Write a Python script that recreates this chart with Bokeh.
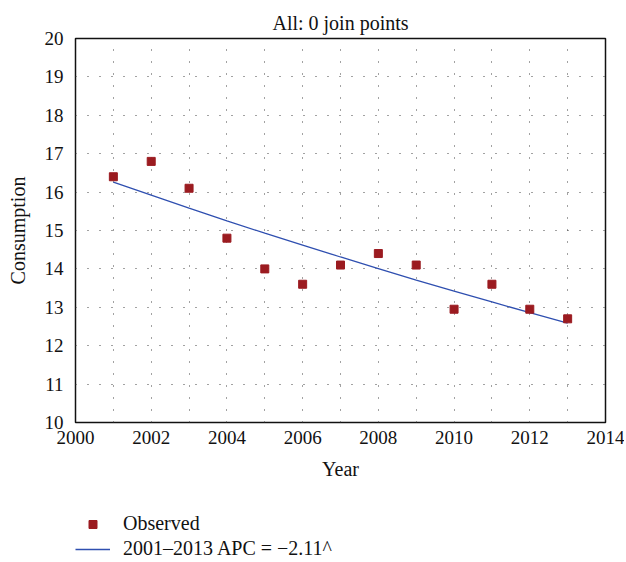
from bokeh.plotting import figure
from bokeh.models import FixedTicker, Legend, LegendItem
from bokeh.layouts import column
from bokeh.embed import file_html
from bokeh.resources import INLINE

years = [2001, 2002, 2003, 2004, 2005, 2006, 2007, 2008, 2009, 2010, 2011, 2012, 2013]
observed = [16.4, 16.8, 16.1, 14.8, 14.0, 13.6, 14.1, 14.4, 14.1, 12.95, 13.6, 12.95, 12.7]
fitted = [16.26, 15.92, 15.58, 15.25, 14.93, 14.62, 14.31, 14.01, 13.71, 13.42, 13.14, 12.86, 12.59]
x_ticks = [2000, 2002, 2004, 2006, 2008, 2010, 2012, 2014]
y_ticks = [10, 11, 12, 13, 14, 15, 16, 17, 18, 19, 20]
x_grid = years
y_grid = [11, 12, 13, 14, 15, 16, 17, 18, 19]
legend_labels = ["Observed", "2001\u20132013 APC = \u22122.11^"]

FONT = "Liberation Serif"
RED = "#9b1b20"
BLUE = "#2f4fb0"

p = figure(width=624, height=500, output_backend="svg", toolbar_location=None,
           x_range=(2000, 2014), y_range=(10, 20),
           min_border_left=75, min_border_right=19, min_border_top=38, min_border_bottom=78,
           title="All: 0 join points")

p.title.align = "center"
p.title.vertical_align = "top"
p.title.text_font = FONT
p.title.text_font_size = "20px"
p.title.text_font_style = "normal"
p.title.text_color = "#111111"
p.title.standoff = 6

p.outline_line_color = "#111111"
p.outline_line_width = 1.5
p.background_fill_color = "white"

for ax in (p.xaxis[0], p.yaxis[0]):
    ax.axis_line_color = None
    ax.major_tick_line_color = None
    ax.minor_tick_line_color = None
    ax.major_label_text_font = FONT
    ax.major_label_text_font_size = "19px"
    ax.major_label_text_color = "#111111"
    ax.axis_label_text_font = FONT
    ax.axis_label_text_font_size = "20px"
    ax.axis_label_text_font_style = "normal"
    ax.axis_label_text_color = "#111111"

p.xaxis.ticker = FixedTicker(ticks=x_ticks)
p.yaxis.ticker = FixedTicker(ticks=y_ticks)
p.xaxis.axis_label = "Year"
p.yaxis.axis_label = "Consumption"
p.xaxis.major_label_standoff = 2
p.yaxis.major_label_standoff = 6
p.xaxis.axis_label_standoff = 11
p.yaxis.axis_label_standoff = 13

p.xgrid.ticker = FixedTicker(ticks=x_grid)
p.ygrid.ticker = FixedTicker(ticks=y_grid)
for g in (p.xgrid[0], p.ygrid[0]):
    g.grid_line_color = "#444444"
    g.grid_line_dash = "1 11"
    g.grid_line_width = 1

p.line(years, fitted, line_color=BLUE, line_width=1.3)
p.scatter(years, observed, marker="square", size=8, fill_color=RED, line_color=RED)

# Legend panel below the chart (its renderers lie outside its visible range)
lg = figure(width=624, height=60, output_backend="svg", toolbar_location=None,
            x_range=(0, 1), y_range=(0, 1), min_border=0,
            x_axis_location=None, y_axis_location=None)
lg.grid.visible = False
lg.outline_line_color = None
r_pts = lg.scatter(years, observed, marker="square", size=8, fill_color=RED, line_color=RED)
r_line = lg.line(years, fitted, line_color=BLUE, line_width=1.3)

legend = Legend(items=[LegendItem(label=legend_labels[0], renderers=[r_pts]),
                       LegendItem(label=legend_labels[1], renderers=[r_line])],
                location=(0, 0), orientation="vertical",
                border_line_color=None, background_fill_alpha=0,
                label_text_font=FONT, label_text_font_size="20px", label_text_color="#111111",
                glyph_width=35, glyph_height=20, label_height=20, label_standoff=13,
                spacing=2, padding=0, margin=0)
lg.add_layout(legend, "center")

layout = column(p, lg, spacing=0)
open("out.html", "w").write(file_html(layout, INLINE))
